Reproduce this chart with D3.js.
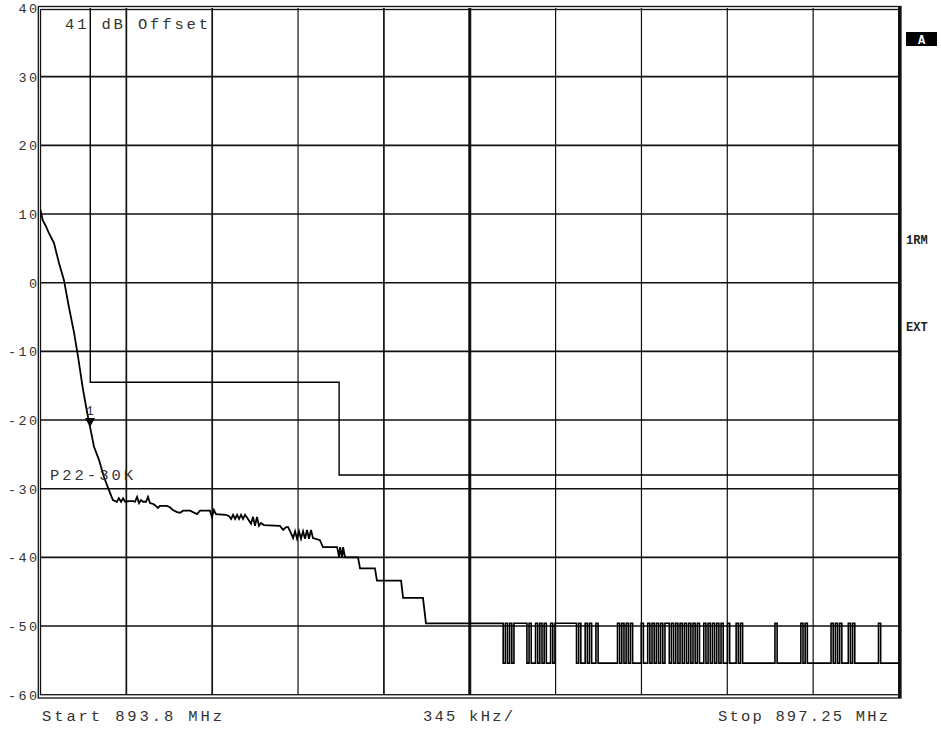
<!DOCTYPE html>
<html>
<head>
<meta charset="utf-8">
<script src="https://cdn.jsdelivr.net/npm/d3@7/dist/d3.min.js"></script>
<style>
  body { margin: 0; background: #fff; }
  svg { display: block; }
</style>
</head>
<body>
<div id="chart"></div>
<script>
// ---- data ----
const yTicks = [40, 30, 20, 10, 0, -10, -20, -30, -40, -50, -60];
const startMHz = 893.8, stopMHz = 897.25, spanPerDiv = 0.345;   // MHz
const xLabels = { start: "Start 893.8 MHz", div: "345 kHz/", stop: "Stop 897.25 MHz" };

// trace: roll-off part [MHz, dB]
const traceHead = [
  [893.800, 10.6], [893.809, 9.1], [893.822, 8.2], [893.834, 7.2], [893.854, 5.8], [893.874, 2.9],
  [893.894, 0.4], [893.914, -3.5], [893.935, -7.3], [893.951, -10.8], [893.971, -15.6],
  [893.991, -19.6], [893.999, -21.0], [894.015, -23.9], [894.035, -25.8], [894.055, -28.3],
  [894.075, -30.2], [894.091, -31.65],
  [894.107, -31.9], [894.115, -31.4], [894.124, -31.9], [894.132, -31.4], [894.140, -31.9],
  [894.156, -31.8], [894.172, -31.8], [894.180, -31.9], [894.188, -31.2], [894.196, -32.1],
  [894.204, -31.65], [894.212, -31.9], [894.224, -31.9], [894.232, -31.2], [894.240, -32.1],
  [894.252, -32.2], [894.260, -32.4], [894.272, -32.8], [894.280, -32.5], [894.292, -32.5],
  [894.308, -32.5], [894.320, -32.7], [894.332, -33.1], [894.349, -33.4], [894.361, -33.5],
  [894.373, -33.2], [894.401, -33.2], [894.429, -33.7], [894.441, -33.2], [894.481, -33.2],
  [894.489, -34.1], [894.497, -33.1], [894.505, -33.7], [894.545, -33.8], [894.558, -34.0],
  [894.566, -34.4], [894.574, -33.8], [894.582, -34.4], [894.590, -33.8], [894.598, -34.4],
  [894.606, -33.8], [894.614, -34.4], [894.622, -33.8], [894.634, -34.4], [894.646, -35.1],
  [894.654, -34.1], [894.662, -35.4], [894.670, -34.1], [894.678, -35.4], [894.686, -35.0],
  [894.698, -35.3], [894.762, -35.4], [894.775, -36.0], [894.787, -35.6], [894.795, -35.6],
  [894.807, -36.5], [894.815, -37.2], [894.823, -36.2], [894.831, -37.3], [894.839, -36.2],
  [894.847, -37.3], [894.855, -36.2], [894.863, -37.3], [894.871, -36.0], [894.879, -37.3],
  [894.887, -36.0], [894.895, -37.2], [894.923, -37.5], [894.935, -38.5], [894.992, -38.5],
  [895.000, -40.0], [895.004, -38.5], [895.012, -40.0], [895.016, -38.5], [895.024, -40.0],
  [895.076, -40.0], [895.084, -41.6], [895.144, -41.6], [895.152, -43.4], [895.249, -43.4],
  [895.257, -45.9], [895.337, -45.9], [895.349, -49.6], [895.655, -49.6]
];

// trace: noise floor part, one char per sweep point (h = upper level, l = lower level)
const floorStart = 895.655;
const floorHigh = -49.6, floorLow = -55.4;
const floorPattern = [
  "lhlhlh", "hhhhh", "lhllhlhlhllhlh", "hhhhhhhhh", "lhllhlhllhll", "lllllll",
  "hlhlhlhll", "llhll", "hlhlhlhlhhlhlhlhl", "hlhlhlhllhlhlhlhlh", "llhlllhlhll",
  "lllllllllllll", "hl", "llllllllll", "hlh", "lllllllllll", "hlhlh", "lll", "hlh",
  "lllllllllll", "hl", "llllllll"
].join("");

// limit line [MHz, dB]
const limitLine = [[894.0, 40], [894.0, -14.5], [895.0, -14.5], [895.0, -28.0], [897.25, -28.0]];

const marker = { freq: 893.999, level: -21.0, label: "1" };
const notes = { offset: "41 dB Offset", limitName: "P22-30K" };
const sideLabels = ["1RM", "EXT"];

// ---- layout ----
const W = 941, H = 729;
const plot = { left: 40.5, right: 899, top: 8, bottom: 694.7 };
const monoFont = "'Liberation Mono', 'DejaVu Sans Mono', monospace";

const svg = d3.select("#chart").append("svg")
  .attr("width", W).attr("height", H)
  .attr("viewBox", `0 0 ${W} ${H}`);

svg.append("rect").attr("width", W).attr("height", H).attr("fill", "#fff");

const x = d3.scaleLinear().domain([startMHz, stopMHz]).range([plot.left, plot.right]);
const y = d3.scaleLinear().domain([-60, 40]).range([plot.bottom, plot.top]);

// grid (center division drawn heavier, as on the instrument)
const xGrid = d3.range(1, 10).map(i => startMHz + i * spanPerDiv);
const grid = svg.append("g");
grid.selectAll("line.v").data(xGrid).join("line")
  .attr("x1", d => x(d)).attr("x2", d => x(d))
  .attr("y1", plot.top).attr("y2", plot.bottom)
  .attr("stroke", "#111")
  .attr("stroke-width", (d, i) => i === 4 ? 3 : (i < 4 && i !== 2 ? 1.7 : 1.2));
grid.selectAll("line.h").data(yTicks.slice(1, -1)).join("line")
  .attr("x1", plot.left).attr("x2", plot.right)
  .attr("y1", d => y(d)).attr("y2", d => y(d))
  .attr("stroke", "#111").attr("stroke-width", 1.6);

// frame (double line)
svg.append("rect")
  .attr("x", 38.3).attr("y", 6.5)
  .attr("width", 901 - 38.3).attr("height", 698 - 6.5)
  .attr("fill", "none").attr("stroke", "#111").attr("stroke-width", 1.3);
svg.append("rect")
  .attr("x", plot.left).attr("y", plot.top + 1.5)
  .attr("width", plot.right - plot.left).attr("height", plot.bottom - plot.top - 1.5)
  .attr("fill", "none").attr("stroke", "#111").attr("stroke-width", 1.3);
svg.append("line")
  .attr("x1", 899.5).attr("x2", 899.5).attr("y1", 6.5).attr("y2", 698)
  .attr("stroke", "#111").attr("stroke-width", 3);

// y tick labels
svg.append("g").selectAll("text").data(yTicks).join("text")
  .attr("x", 39.5).attr("y", d => y(d))
  .attr("dy", "0.36em")
  .attr("text-anchor", "end")
  .attr("font-family", monoFont).attr("font-size", 13.5)
  .attr("letter-spacing", 2.4)
  .attr("fill", "#333")
  .text(d => d);

// clip for the traces
svg.append("clipPath").attr("id", "plotClip")
  .append("rect")
  .attr("x", plot.left).attr("y", plot.top)
  .attr("width", plot.right - plot.left).attr("height", plot.bottom - plot.top);

const line = d3.line().x(d => x(d[0])).y(d => y(d[1]));

// limit line
svg.append("path")
  .datum(limitLine)
  .attr("clip-path", "url(#plotClip)")
  .attr("d", line)
  .attr("fill", "none").attr("stroke", "#000").attr("stroke-width", 1.4);

// trace: roll-off drawn point to point, noise floor drawn as sweep bins
const floorStep = (stopMHz - floorStart) / floorPattern.length;
const floorPoints = [traceHead[traceHead.length - 1]].concat(
  floorPattern.split("").map((c, i) =>
    [floorStart + (i + 1) * floorStep, c === "h" ? floorHigh : floorLow]));

svg.append("path")
  .datum(traceHead)
  .attr("clip-path", "url(#plotClip)")
  .attr("d", line)
  .attr("fill", "none").attr("stroke", "#000")
  .attr("stroke-width", 1.8);

svg.append("path")
  .datum(floorPoints)
  .attr("clip-path", "url(#plotClip)")
  .attr("d", line.curve(d3.curveStep))
  .attr("fill", "none").attr("stroke", "#000")
  .attr("stroke-width", 1.6);

// marker
const mx = x(marker.freq), my = y(marker.level);
svg.append("path")
  .attr("d", `M${mx - 5},${my - 9} L${mx + 5},${my - 9} L${mx},${my} Z`)
  .attr("fill", "#000");
svg.append("text")
  .attr("x", mx).attr("y", my - 12)
  .attr("text-anchor", "middle")
  .attr("font-family", monoFont).attr("font-size", 13)
  .attr("fill", "#333")
  .text(marker.label);

// annotation texts
const txt = (t, xx, yy, len) => svg.append("text")
  .attr("x", xx).attr("y", yy)
  .attr("font-family", monoFont).attr("font-size", 15.5)
  .attr("fill", "#333")
  .attr("textLength", len).attr("lengthAdjust", "spacing")
  .text(t);

txt(notes.offset, 65, 28.5, 143);
txt(notes.limitName, 50, 479.5, 83);
txt(xLabels.start, 42, 721, 180);
txt(xLabels.div, 423, 721, 90);
txt(xLabels.stop, 718, 721, 170);

// right-side status labels
svg.append("rect").attr("x", 906).attr("y", 32).attr("width", 31).attr("height", 14).attr("fill", "#000");
svg.append("text")
  .attr("x", 921.5).attr("y", 43.5).attr("text-anchor", "middle")
  .attr("font-family", monoFont).attr("font-size", 12).attr("font-weight", "bold")
  .attr("fill", "#fff").text("A");
svg.append("g").selectAll("text").data(sideLabels).join("text")
  .attr("x", 906).attr("y", (d, i) => i === 0 ? 244 : 331)
  .attr("font-family", monoFont).attr("font-size", 12).attr("font-weight", "bold")
  .attr("fill", "#222")
  .text(d => d);
</script>
</body>
</html>
